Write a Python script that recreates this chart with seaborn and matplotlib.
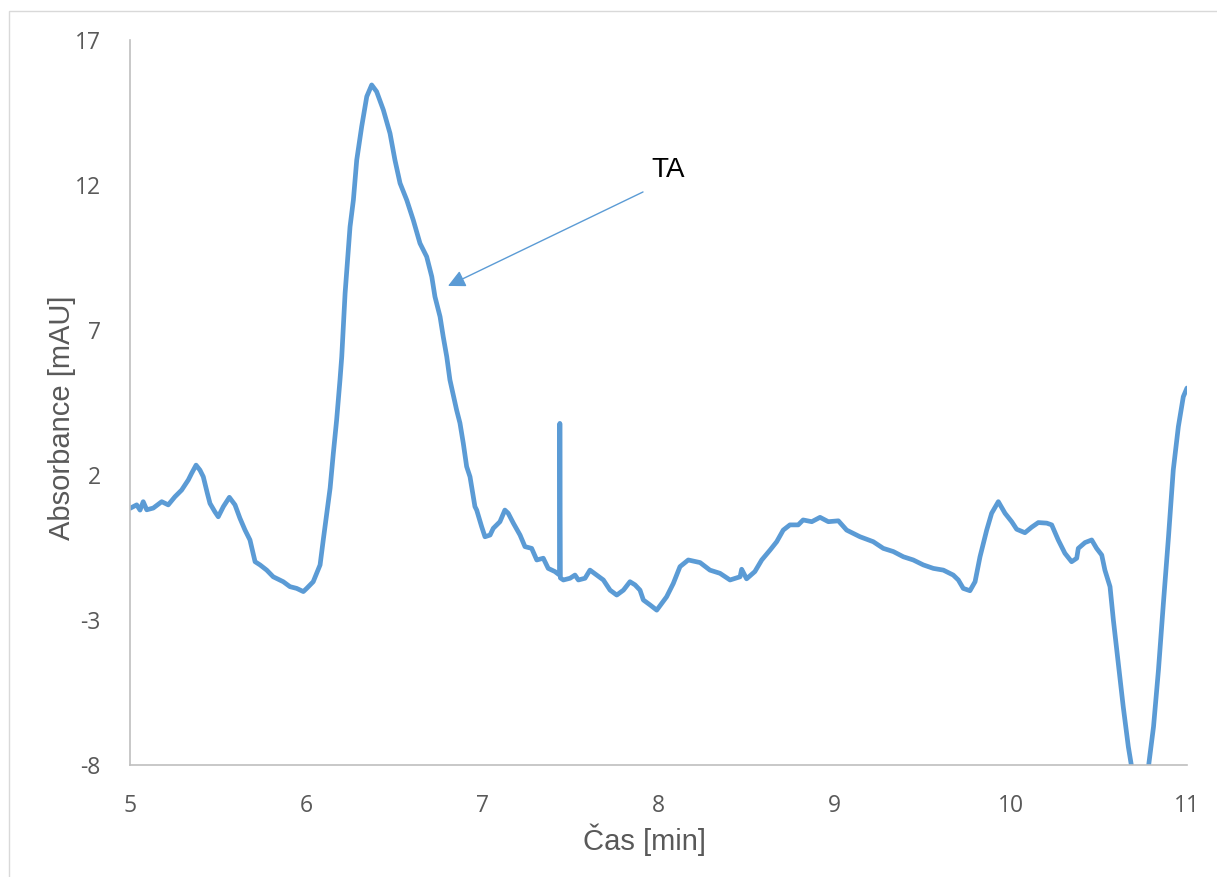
import matplotlib
matplotlib.use("Agg")
import matplotlib.pyplot as plt
from matplotlib.patches import Rectangle
import pandas as pd
import seaborn as sns

# Chromatogram trace: retention time [min] and detector absorbance [mAU]
time_min = [
    5.000, 5.038, 5.057, 5.075, 5.095, 5.132, 5.180, 5.217, 5.255, 5.293,
    5.331, 5.350, 5.375, 5.397, 5.416, 5.439, 5.454, 5.482, 5.501, 5.530,
    5.564, 5.596, 5.624, 5.653, 5.681, 5.710, 5.738, 5.776, 5.813, 5.870,
    5.908, 5.946, 5.984, 6.003, 6.040, 6.079, 6.097, 6.117, 6.136, 6.154,
    6.173, 6.192, 6.202, 6.221, 6.249, 6.268, 6.287, 6.315, 6.344, 6.372,
    6.400, 6.438, 6.476, 6.504, 6.533, 6.571, 6.608, 6.646, 6.684, 6.713,
    6.731, 6.760, 6.778, 6.798, 6.816, 6.854, 6.873, 6.892, 6.911, 6.930,
    6.958, 6.968, 6.996, 7.015, 7.044, 7.062, 7.100, 7.128, 7.147, 7.176,
    7.214, 7.242, 7.280, 7.309, 7.346, 7.374, 7.412, 7.438, 7.440, 7.443,
    7.460, 7.498, 7.526, 7.545, 7.583, 7.611, 7.649, 7.687, 7.725, 7.763,
    7.801, 7.838, 7.867, 7.895, 7.914, 7.952, 7.990, 8.018, 8.046, 8.084,
    8.122, 8.169, 8.236, 8.292, 8.349, 8.406, 8.463, 8.472, 8.500, 8.547,
    8.586, 8.633, 8.671, 8.708, 8.746, 8.793, 8.821, 8.870, 8.917, 8.964,
    9.021, 9.068, 9.144, 9.219, 9.276, 9.333, 9.390, 9.446, 9.503, 9.560,
    9.617, 9.673, 9.702, 9.730, 9.768, 9.797, 9.825, 9.863, 9.891, 9.929,
    9.967, 10.005, 10.033, 10.080, 10.118, 10.156, 10.204, 10.232, 10.269, 10.307,
    10.345, 10.374, 10.383, 10.421, 10.459, 10.487, 10.516, 10.534, 10.563, 10.582,
    10.610, 10.638, 10.667, 10.700, 10.735, 10.770, 10.810, 10.838, 10.866, 10.895,
    10.922, 10.951, 10.979, 11.000,
]
absorbance_mau = [
    0.85, 0.97, 0.79, 1.08, 0.80, 0.86, 1.08, 0.97, 1.25, 1.48,
    1.83, 2.06, 2.34, 2.17, 1.94, 1.37, 1.02, 0.73, 0.56, 0.91,
    1.23, 0.97, 0.51, 0.10, -0.24, -0.99, -1.10, -1.28, -1.51, -1.68,
    -1.85, -1.91, -2.02, -1.91, -1.68, -1.10, -0.24, 0.68, 1.55, 2.74,
    3.90, 5.28, 6.08, 8.27, 10.56, 11.48, 12.86, 14.01, 15.05, 15.45,
    15.22, 14.59, 13.78, 12.86, 12.06, 11.48, 10.79, 9.99, 9.53, 8.84,
    8.15, 7.46, 6.77, 6.08, 5.28, 4.24, 3.79, 3.09, 2.29, 1.94,
    0.91, 0.79, 0.22, -0.13, -0.07, 0.16, 0.39, 0.79, 0.68, 0.34,
    -0.07, -0.47, -0.53, -0.93, -0.87, -1.22, -1.33, -1.45, 3.78, -1.55,
    -1.62, -1.56, -1.45, -1.62, -1.56, -1.28, -1.45, -1.62, -1.97, -2.14,
    -1.97, -1.68, -1.79, -1.97, -2.31, -2.48, -2.66, -2.43, -2.20, -1.74,
    -1.16, -0.93, -1.02, -1.28, -1.39, -1.62, -1.51, -1.25, -1.58, -1.33,
    -0.93, -0.59, -0.30, 0.10, 0.28, 0.28, 0.45, 0.39, 0.54, 0.39,
    0.42, 0.10, -0.13, -0.30, -0.53, -0.64, -0.82, -0.93, -1.10, -1.22,
    -1.28, -1.45, -1.62, -1.91, -1.99, -1.68, -0.82, 0.10, 0.68, 1.08,
    0.68, 0.39, 0.13, 0.01, 0.20, 0.36, 0.34, 0.28, -0.24, -0.70,
    -0.99, -0.87, -0.53, -0.33, -0.24, -0.53, -0.76, -1.28, -1.85, -3.00,
    -4.49, -5.99, -7.37, -8.60, -9.30, -8.60, -6.68, -4.72, -2.42, -0.13,
    2.17, 3.67, 4.70, 5.00,
]

x_ticks = [5, 6, 7, 8, 9, 10, 11]
y_ticks = [-8, -3, 2, 7, 12, 17]

peak_name = "TA"
peak_name_pos = (8.054, 12.52)
arrow_tail = (7.912, 11.76)
arrow_head = (6.805, 8.52)

x_title = "Čas [min]"
y_title = "Absorbance [mAU]"

line_color = "#5B9BD5"
text_gray = "#595959"
axis_gray = "#BFBFBF"

sns.set_theme(style="white")
plt.rcParams["font.family"] = ["Liberation Sans", "DejaVu Sans"]

fig = plt.figure(figsize=(12.17, 8.77), dpi=100)
fig.patch.set_facecolor("white")

# thin outer frame of the chart area
fig.add_artist(Rectangle((9 / 1217, -0.05), 1.2, 1 - 11 / 877 + 0.05,
                         transform=fig.transFigure, fill=False,
                         edgecolor="#D9D9D9", linewidth=1.0))

ax = fig.add_axes([130 / 1217, 1 - 765 / 877, 1057 / 1217, 725 / 877])

df = pd.DataFrame({"time": time_min, "absorbance": absorbance_mau})
sns.lineplot(data=df, x="time", y="absorbance", ax=ax, estimator=None,
             sort=False, color=line_color, linewidth=3.4)
for ln in ax.lines:
    ln.set_solid_joinstyle("round")
    ln.set_solid_capstyle("round")

ax.set_xlim(5, 11)
ax.set_ylim(-8, 17)
ax.set_xticks(x_ticks)
ax.set_yticks(y_ticks)
ax.set_xticklabels([str(v) for v in x_ticks])
ax.set_yticklabels([str(v) for v in y_ticks])
ax.tick_params(axis="both", length=0, labelsize=16.5, labelcolor=text_gray)
ax.tick_params(axis="y", pad=21)
ax.tick_params(axis="x", pad=21)
for lab in ax.get_xticklabels() + ax.get_yticklabels():
    lab.set_family(["Open Sans", "DejaVu Sans"])

sns.despine(ax=ax, top=True, right=True)
for side in ("left", "bottom"):
    ax.spines[side].set_color(axis_gray)
    ax.spines[side].set_linewidth(1.2)

ax.set_xlabel(x_title, fontsize=21, color=text_gray)
ax.set_ylabel(y_title, fontsize=21, color=text_gray)
ax.xaxis.label.set_va("center")
ax.yaxis.label.set_va("center")
ax.xaxis.set_label_coords(0.487, -0.103)
ax.yaxis.set_label_coords(-0.0643, 0.479)

ax.text(*peak_name_pos, peak_name, fontsize=20, color="black",
        ha="center", va="center")
ax.annotate("", xy=arrow_head, xytext=arrow_tail,
            arrowprops=dict(arrowstyle="-|>", color=line_color, lw=1.0,
                            mutation_scale=26, shrinkA=0, shrinkB=0))

fig.savefig("out.png", dpi=100, facecolor="white")
